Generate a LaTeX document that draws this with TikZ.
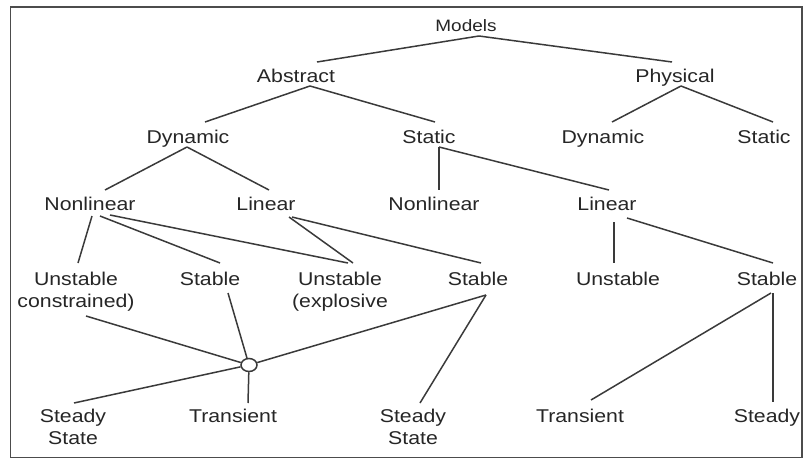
\documentclass[tikz,border=0pt]{standalone}
\usepackage{fontspec}
\newfontfamily\lbf[FakeStretch=1.15]{Liberation Sans}
\usetikzlibrary{shapes.geometric}
\definecolor{ink}{HTML}{262626}
\definecolor{wire}{HTML}{3A3A3A}
\tikzset{
  lbl/.style={inner sep=0pt, outer sep=0pt, align=center, text=ink,
    font=\lbf\fontsize{18.5}{22}\selectfont},
  small/.style={lbl, font=\lbf\fontsize{16.5}{20}\selectfont},
  wirel/.style={draw=wire, line width=1.5pt},
  joint/.style={ellipse, draw=wire, line width=1.5pt, fill=white, minimum width=16pt, minimum height=13pt, inner sep=0pt}
}
\begin{document}
\begin{tikzpicture}[x=1pt,y=-1pt]
\useasboundingbox (0,0) rectangle (803,460);
\draw[gray!60!black, line width=1.5pt] (10.5,7) rectangle (802,457.5);

% nodes
\node[small,anchor=base] (models) at (466,32) {Models};
\node[lbl,anchor=base] (abs) at (296,82) {Abstract};
\node[lbl,anchor=base] (phys) at (675,82) {Physical};
\node[lbl,anchor=base] (dynA) at (188,143) {Dynamic};
\node[lbl,anchor=base] (statA) at (429,143) {Static};
\node[lbl,anchor=base] (dynP) at (603,143) {Dynamic};
\node[lbl,anchor=base] (statP) at (764,143) {Static};
\node[lbl,anchor=base] (nlD) at (90,210) {Nonlinear};
\node[lbl,anchor=base] (linD) at (266,210) {Linear};
\node[lbl,anchor=base] (nlS) at (434,210) {Nonlinear};
\node[lbl,anchor=base] (linS) at (607,210) {Linear};
\node[lbl,anchor=north] (uc) at (76,271.7) {Unstable\\constrained)};
\node[lbl,anchor=base] (stD) at (210,285) {Stable};
\node[lbl,anchor=north] (ue) at (340,271.7) {Unstable\\(explosive};
\node[lbl,anchor=base] (stL) at (478,285) {Stable};
\node[lbl,anchor=base] (unS) at (618,285) {Unstable};
\node[lbl,anchor=base] (stS) at (767,285) {Stable};
\node[joint] (circ) at (249,365) {};
\node[lbl,anchor=north] (ssL) at (73,408.7) {Steady\\State};
\node[lbl,anchor=base] (trL) at (233,422) {Transient};
\node[lbl,anchor=north] (ssM) at (413,408.7) {Steady\\State};
\node[lbl,anchor=base] (trS) at (580,422) {Transient};
\node[lbl,anchor=base] (stdy) at (767,422) {Steady};

% connectors
\draw[wirel] ([shift={(13,4)}]models.base) -- ([shift={(21,-20)}]abs.base);
\draw[wirel] ([shift={(13,4)}]models.base) -- ([shift={(-3,-20)}]phys.base);
\draw[wirel] ([shift={(14,4)}]abs.base) -- ([shift={(17,-21)}]dynA.base);
\draw[wirel] ([shift={(14,4)}]abs.base) -- ([shift={(6,-21)}]statA.base);
\draw[wirel] ([shift={(6,4)}]phys.base) -- ([shift={(9,-21)}]dynP.base);
\draw[wirel] ([shift={(6,4)}]phys.base) -- ([shift={(9,-21)}]statP.base);
\draw[wirel] ([shift={(-1,4)}]dynA.base) -- ([shift={(15,-20)}]nlD.base);
\draw[wirel] ([shift={(-1,4)}]dynA.base) -- ([shift={(3,-20)}]linD.base);
\draw[wirel] ([shift={(10,4)}]statA.base) -- ([shift={(5,-20)}]nlS.base);
\draw[wirel] ([shift={(10,4)}]statA.base) -- ([shift={(2,-20)}]linS.base);
\draw[wirel] ([shift={(2,6)}]nlD.base) -- ([shift={(2,-8.7)}]uc.north);
\draw[wirel] ([shift={(10,6)}]nlD.base) -- ([shift={(10,-22)}]stD.base);
\draw[wirel] ([shift={(20,5)}]nlD.base) -- ([shift={(8,-8.7)}]ue.north);
\draw[wirel] ([shift={(23,7)}]linD.base) -- ([shift={(13,-8.7)}]ue.north);
\draw[wirel] ([shift={(26,7)}]linD.base) -- ([shift={(3,-22)}]stL.base);
\draw[wirel] ([shift={(7,12)}]linS.base) -- ([shift={(-4,-22)}]unS.base);
\draw[wirel] ([shift={(20,8)}]linS.base) -- ([shift={(6,-22)}]stS.base);
\draw[wirel] ([shift={(10,44.3)}]uc.north) -- (circ);
\draw[wirel] ([shift={(18,8)}]stD.base) -- (circ);
\draw[wirel] ([shift={(8,10)}]stL.base) -- (circ);
\draw[wirel] (circ) -- ([shift={(1,-5.7)}]ssL.north);
\draw[wirel] (circ) -- ([shift={(15,-19)}]trL.base);
\draw[wirel] ([shift={(8,10)}]stL.base) -- ([shift={(7,-5.7)}]ssM.north);
\draw[wirel] ([shift={(4,8)}]stS.base) -- ([shift={(11,-22)}]trS.base);
\draw[wirel] ([shift={(6,8)}]stS.base) -- ([shift={(6,-20)}]stdy.base);
\end{tikzpicture}
\end{document}
